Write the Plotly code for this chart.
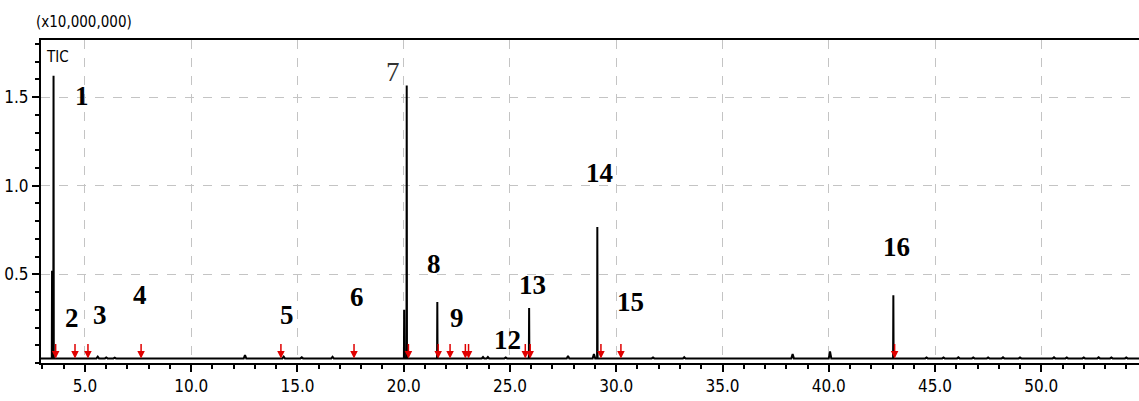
import plotly.graph_objects as go

# ---- data (retention time in min, intensity in x10,000,000) ----
baseline_level = 0.026
peak_times   = [3.45, 3.52, 20.02, 20.14, 21.58, 25.90, 29.11, 43.04]
peak_heights = [0.52, 1.62, 0.30, 1.566, 0.344, 0.31, 0.767, 0.382]
minor_times   = [5.6, 6.0, 6.4, 12.53, 14.35, 15.2, 16.65, 23.73, 23.96, 24.8,
                 27.73, 28.95, 31.73, 33.2, 38.3, 40.06, 44.6, 45.4, 46.1, 46.8,
                 47.5, 48.2, 49.0, 50.6, 51.2, 52.0, 52.7, 53.3, 54.0]
minor_heights = [0.036, 0.031, 0.030, 0.045, 0.036, 0.032, 0.035, 0.034, 0.034, 0.031,
                 0.040, 0.050, 0.031, 0.033, 0.050, 0.065, 0.031, 0.031, 0.032, 0.031,
                 0.031, 0.032, 0.031, 0.032, 0.031, 0.031, 0.032, 0.031, 0.031]

label_text = ["1", "2", "3", "4", "5", "6", "7", "8", "9", "12", "13", "14", "15", "16"]
label_x    = [4.86, 4.39, 5.71, 7.59, 14.49, 17.79, 19.48, 21.42, 22.49, 24.90, 26.08, 29.19, 30.65, 43.20]
label_y    = [1.504, 0.252, 0.269, 0.382, 0.269, 0.372, 1.641, 0.557, 0.252, 0.128, 0.438, 1.071, 0.344, 0.654]

marker_times = [3.62, 4.53, 5.14, 7.64, 14.22, 17.66, 20.22, 21.62, 22.18, 22.90, 23.05,
                25.72, 25.95, 29.28, 30.22, 43.10]

x_tick_vals = [5, 10, 15, 20, 25, 30, 35, 40, 45, 50]
x_tick_text = ["5.0", "10.0", "15.0", "20.0", "25.0", "30.0", "35.0", "40.0", "45.0", "50.0"]
y_tick_vals = [0.5, 1.0, 1.5]
y_tick_text = ["0.5", "1.0", "1.5"]

x_range = [2.93, 54.6]
y_range = [0, 1.822]

# ---- build chromatogram trace from peak lists ----
all_peaks = sorted(list(zip(peak_times, peak_heights, [0.012] * len(peak_times))) +
                   list(zip(minor_times, minor_heights, [0.06] * len(minor_times))))
xs = [x_range[0]]
ys = [baseline_level]
for t, h, w in all_peaks:
    xs += [t - w, t, t + w]
    ys += [baseline_level, h, baseline_level]
xs.append(x_range[1])
ys.append(baseline_level)

fig = go.Figure()
fig.add_trace(go.Scatter(x=xs, y=ys, mode="lines",
                         line=dict(color="black", width=2),
                         hoverinfo="skip", showlegend=False))

narrow = "DejaVu Sans Condensed, Liberation Sans Narrow, sans-serif"

annotations = []
for txt, lx, ly in zip(label_text, label_x, label_y):
    annotations.append(dict(x=lx, y=ly, xref="x", yref="y", text=txt, showarrow=False,
                            font=dict(family="Liberation Serif, Times New Roman, serif",
                                      size=27,
                                      color="#333333" if txt == "7" else "black",
                                      weight="normal" if txt == "7" else "bold")))
for mt in marker_times:
    annotations.append(dict(x=mt, y=baseline_level, xref="x", yref="y", text="",
                            showarrow=True, ax=0, ay=-16, arrowhead=2, arrowsize=1,
                            arrowwidth=1.5, arrowcolor="#e00000"))
annotations.append(dict(x=-0.006, y=1.056, xref="paper", yref="paper", text="(x10,000,000)",
                        showarrow=False, xanchor="left", yanchor="middle",
                        font=dict(family=narrow, size=15, color="black")))
annotations.append(dict(x=0.003, y=0.948, xref="paper", yref="paper", text="TIC",
                        showarrow=False, xanchor="left", yanchor="middle",
                        font=dict(family=narrow, size=15, color="black")))

fig.update_layout(
    width=1139, height=401,
    margin=dict(l=41, r=0, t=40, b=38),
    paper_bgcolor="white", plot_bgcolor="white",
    annotations=annotations,
    xaxis=dict(range=x_range, tickvals=x_tick_vals, ticktext=x_tick_text,
               showline=True, linecolor="black", linewidth=2, mirror=True,
               ticks="outside", ticklen=7, tickwidth=1.5, tickcolor="black",
               showgrid=True, gridcolor="#c4c4c4", griddash="dash", gridwidth=1,
               zeroline=False,
               minor=dict(dtick=1, tick0=0, ticks="outside", ticklen=4,
                          tickcolor="black", showgrid=False),
               tickfont=dict(family=narrow, size=17, color="black")),
    yaxis=dict(range=y_range, tickvals=y_tick_vals, ticktext=y_tick_text,
               showline=True, linecolor="black", linewidth=2,
               ticks="outside", ticklen=7, tickwidth=1.5, tickcolor="black",
               showgrid=True, gridcolor="#c4c4c4", griddash="dash", gridwidth=1,
               zeroline=False,
               minor=dict(dtick=0.1, tick0=0, ticks="outside", ticklen=4,
                          tickcolor="black", showgrid=False),
               tickfont=dict(family=narrow, size=17, color="black")),
)

fig.write_html("out.html")
